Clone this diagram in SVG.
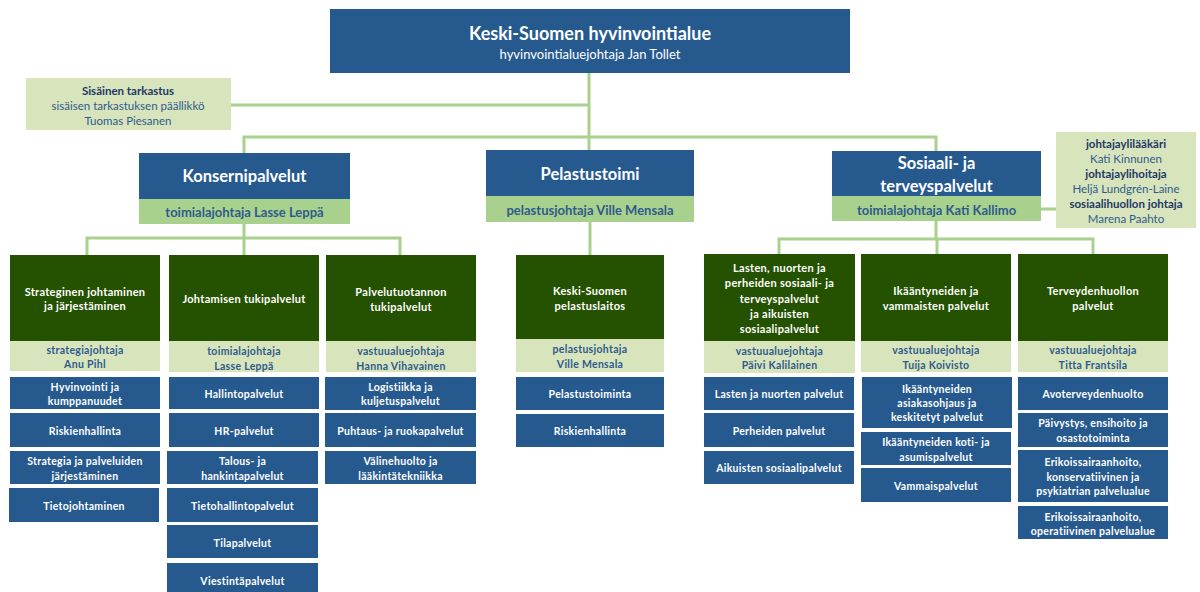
<svg xmlns="http://www.w3.org/2000/svg" width="1200" height="592" viewBox="0 0 1200 592">
<style>
text{font-family:Lato,"Liberation Sans",sans-serif;text-anchor:middle}
.blue{fill:#265A8F}
.dg{fill:#245200}
.lg{fill:#D8E4BC}
.mg{fill:#A9D18E}
.conn{stroke:#A9D18E;stroke-width:3;fill:none}
.w{fill:#fff;font-weight:bold}
.s{font-size:10.5px;letter-spacing:0.3px}
.t{font-size:11px;letter-spacing:0.3px}
.d{fill:#2F5B8C;font-weight:bold}
.n{fill:#2F5B8C}
.k{fill:#1F3864;font-weight:bold}
.r{font-size:11.5px}
.h{font-size:16.5px}
</style>
<g id="connectors">
<path class="conn" d="M589 73V137M231 105H589M244 153V137H936V151M589 137V150"/>
<path class="conn" d="M244 224V238M87 255V238H400V255M244 238V255"/>
<path class="conn" d="M590 222V255"/>
<path class="conn" d="M936 221V239M779 255V239H1093V255M937 239V255M1041 209H1056"/>
</g>
<g id="top">
<rect class="blue" x="330" y="9" width="520" height="64"/>
<text class="w" x="590" y="39.5" font-size="18">Keski-Suomen hyvinvointialue</text>
<text x="590" y="58.5" font-size="13" fill="#fff">hyvinvointialuejohtaja Jan Tollet</text>
</g>
<g id="sisainen">
<rect class="lg" x="26" y="78" width="205" height="52"/>
<text class="k r" x="128" y="94.5">Sisäinen tarkastus</text>
<text class="n r" x="128" y="110">sisäisen tarkastuksen päällikkö</text>
<text class="n r" x="128" y="124.5">Tuomas Piesanen</text>
</g>
<g id="konserni">
<rect class="blue" x="139" y="153" width="211" height="46"/>
<rect class="mg" x="139" y="199" width="211" height="25"/>
<text class="w h" x="244.5" y="181.5">Konsernipalvelut</text>
<text class="d" x="244.5" y="217" font-size="13">toimialajohtaja Lasse Leppä</text>
</g>
<g id="pelastustoimi">
<rect class="blue" x="486" y="150" width="208" height="46"/>
<rect class="mg" x="486" y="196" width="208" height="26"/>
<text class="w h" x="590" y="180">Pelastustoimi</text>
<text class="d" x="590" y="215" font-size="13">pelastusjohtaja Ville Mensala</text>
</g>
<g id="sote">
<rect class="blue" x="832" y="151" width="209" height="45"/>
<rect class="mg" x="832" y="196" width="209" height="25"/>
<text class="w h" x="936.5" y="169">Sosiaali- ja</text>
<text class="w h" x="936.5" y="191.5">terveyspalvelut</text>
<text class="d" x="936.5" y="214.5" font-size="13">toimialajohtaja Kati Kallimo</text>
</g>
<g id="johtajat">
<rect class="lg" x="1056" y="132" width="140" height="96"/>
<text class="k r" x="1126" y="148">johtajaylilääkäri</text>
<text class="n r" x="1126" y="163">Kati Kinnunen</text>
<text class="k r" x="1126" y="178">johtajaylihoitaja</text>
<text class="n r" x="1126" y="193">Heljä Lundgrén-Laine</text>
<text class="k r" x="1126" y="207.5">sosiaalihuollon johtaja</text>
<text class="n r" x="1126" y="223">Marena Paahto</text>
</g>
<g id="strateginen">
<rect class="dg" x="10" y="255" width="150" height="86"/>
<rect class="lg" x="10" y="341" width="150" height="30"/>
<text class="w t" x="85" y="295.5">Strateginen johtaminen</text>
<text class="w t" x="85" y="310">ja järjestäminen</text>
<text class="d s" x="85" y="354">strategiajohtaja</text>
<text class="d s" x="85" y="368">Anu Pihl</text>
<rect class="blue" x="10" y="377" width="150" height="32"/>
<text class="w s" x="85" y="390.5">Hyvinvointi ja</text>
<text class="w s" x="85" y="405">kumppanuudet</text>
<rect class="blue" x="10" y="413" width="150" height="34"/>
<text class="w s" x="85" y="434.5">Riskienhallinta</text>
<rect class="blue" x="10" y="451" width="150" height="33"/>
<text class="w s" x="85" y="465">Strategia ja palveluiden</text>
<text class="w s" x="85" y="480">järjestäminen</text>
<rect class="blue" x="9" y="488" width="150" height="34"/>
<text class="w s" x="84" y="510">Tietojohtaminen</text>
</g>
<g id="johtamisen">
<rect class="dg" x="169" y="255" width="150" height="86"/>
<rect class="lg" x="169" y="341" width="150" height="31"/>
<text class="w t" x="244" y="303">Johtamisen tukipalvelut</text>
<text class="d s" x="244" y="354.5">toimialajohtaja</text>
<text class="d s" x="244" y="369.5">Lasse Leppä</text>
<rect class="blue" x="169" y="377" width="150" height="32"/>
<text class="w s" x="244" y="398">Hallintopalvelut</text>
<rect class="blue" x="169" y="413" width="150" height="34"/>
<text class="w s" x="244" y="434.5">HR-palvelut</text>
<rect class="blue" x="167" y="451" width="151" height="33"/>
<text class="w s" x="242.5" y="465">Talous- ja</text>
<text class="w s" x="242.5" y="480">hankintapalvelut</text>
<rect class="blue" x="167" y="488" width="151" height="34"/>
<text class="w s" x="242.5" y="510">Tietohallintopalvelut</text>
<rect class="blue" x="167" y="525" width="151" height="33"/>
<text class="w s" x="242.5" y="546.5">Tilapalvelut</text>
<rect class="blue" x="167" y="563" width="151" height="33"/>
<text class="w s" x="242.5" y="584.5">Viestintäpalvelut</text>
</g>
<g id="palvelutuotannon">
<rect class="dg" x="326" y="255" width="150" height="86"/>
<rect class="lg" x="326" y="341" width="150" height="31"/>
<text class="w t" x="401" y="295.5">Palvelutuotannon</text>
<text class="w t" x="401" y="310.5">tukipalvelut</text>
<text class="d s" x="401" y="355">vastuualuejohtaja</text>
<text class="d s" x="401" y="370">Hanna Vihavainen</text>
<rect class="blue" x="325" y="377" width="151" height="33"/>
<text class="w s" x="400.5" y="390.5">Logistiikka ja</text>
<text class="w s" x="400.5" y="405">kuljetuspalvelut</text>
<rect class="blue" x="325" y="413" width="151" height="34"/>
<text class="w s" x="400.5" y="434.5">Puhtaus- ja ruokapalvelut</text>
<rect class="blue" x="325" y="451" width="151" height="33"/>
<text class="w s" x="400.5" y="465">Välinehuolto ja</text>
<text class="w s" x="400.5" y="480">lääkintätekniikka</text>
</g>
<g id="pelastuslaitos">
<rect class="dg" x="516" y="255" width="148" height="84"/>
<rect class="lg" x="516" y="339" width="148" height="33"/>
<text class="w t" x="590" y="295">Keski-Suomen</text>
<text class="w t" x="590" y="310">pelastuslaitos</text>
<text class="d s" x="590" y="353">pelastusjohtaja</text>
<text class="d s" x="590" y="368">Ville Mensala</text>
<rect class="blue" x="516" y="377" width="148" height="33"/>
<text class="w s" x="590" y="398">Pelastustoiminta</text>
<rect class="blue" x="516" y="414" width="148" height="33"/>
<text class="w s" x="590" y="434.5">Riskienhallinta</text>
</g>
<g id="lasten">
<rect class="dg" x="704" y="254" width="151" height="87"/>
<rect class="lg" x="704" y="341" width="151" height="32"/>
<text class="w t" x="779.5" y="271.5">Lasten, nuorten ja</text>
<text class="w t" x="779.5" y="287">perheiden sosiaali- ja</text>
<text class="w t" x="779.5" y="302.5">terveyspalvelut</text>
<text class="w t" x="779.5" y="317.5">ja aikuisten</text>
<text class="w t" x="779.5" y="333">sosiaalipalvelut</text>
<text class="d s" x="779.5" y="354.5">vastuualuejohtaja</text>
<text class="d s" x="779.5" y="369">Päivi Kalilainen</text>
<rect class="blue" x="704" y="377" width="150" height="33"/>
<text class="w s" x="779" y="398">Lasten ja nuorten palvelut</text>
<rect class="blue" x="704" y="413" width="150" height="34"/>
<text class="w s" x="779" y="434.5">Perheiden palvelut</text>
<rect class="blue" x="704" y="451" width="150" height="33"/>
<text class="w s" x="779" y="472">Aikuisten sosiaalipalvelut</text>
</g>
<g id="ikaantyneet">
<rect class="dg" x="861" y="254" width="150" height="87"/>
<rect class="lg" x="861" y="341" width="150" height="31"/>
<text class="w t" x="936" y="294.5">Ikääntyneiden ja</text>
<text class="w t" x="936" y="310">vammaisten palvelut</text>
<text class="d s" x="936" y="354">vastuualuejohtaja</text>
<text class="d s" x="936" y="369">Tuija Koivisto</text>
<rect class="blue" x="862" y="377" width="150" height="51"/>
<text class="w s" x="937" y="393">Ikääntyneiden</text>
<text class="w s" x="937" y="407">asiakasohjaus ja</text>
<text class="w s" x="937" y="420.5">keskitetyt palvelut</text>
<rect class="blue" x="861" y="432" width="150" height="33"/>
<text class="w s" x="936" y="446">Ikääntyneiden koti- ja</text>
<text class="w s" x="936" y="460.5">asumispalvelut</text>
<rect class="blue" x="861" y="468" width="150" height="34"/>
<text class="w s" x="936" y="489.5">Vammaispalvelut</text>
</g>
<g id="terveydenhuolto">
<rect class="dg" x="1018" y="254" width="150" height="87"/>
<rect class="lg" x="1018" y="341" width="150" height="31"/>
<text class="w t" x="1093" y="294.5">Terveydenhuollon</text>
<text class="w t" x="1093" y="310">palvelut</text>
<text class="d s" x="1093" y="354">vastuualuejohtaja</text>
<text class="d s" x="1093" y="369">Titta Frantsila</text>
<rect class="blue" x="1018" y="377" width="150" height="33"/>
<text class="w s" x="1093" y="398">Avoterveydenhuolto</text>
<rect class="blue" x="1018" y="413" width="150" height="34"/>
<text class="w s" x="1093" y="427">Päivystys, ensihoito ja</text>
<text class="w s" x="1093" y="441.5">osastotoiminta</text>
<rect class="blue" x="1018" y="450" width="150" height="52"/>
<text class="w s" x="1093" y="466">Erikoissairaanhoito,</text>
<text class="w s" x="1093" y="481">konservatiivinen ja</text>
<text class="w s" x="1093" y="494.5">psykiatrian palvelualue</text>
<rect class="blue" x="1018" y="506" width="150" height="33"/>
<text class="w s" x="1093" y="520.5">Erikoissairaanhoito,</text>
<text class="w s" x="1093" y="535">operatiivinen palvelualue</text>
</g>
</svg>
